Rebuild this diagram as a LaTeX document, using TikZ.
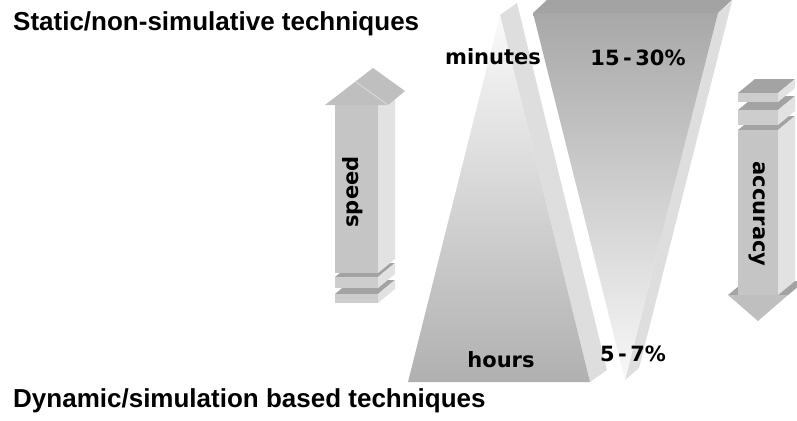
\documentclass[tikz,border=0pt]{standalone}
\usepackage{fontspec}
\setmainfont{Liberation Sans}
\newfontfamily\lblfont{DejaVu Sans}
\definecolor{faceTop}{HTML}{A3A3A3}
\definecolor{faceSide}{HTML}{DEDEDE}
\definecolor{arrFront}{HTML}{C5C5C5}
\definecolor{arrHead}{HTML}{BFBFBF}
\definecolor{arrSide}{HTML}{E2E2E2}
\definecolor{slabFront}{HTML}{CDCDCD}
\definecolor{ridge}{HTML}{DCDCDC}
\definecolor{wedgeLight}{HTML}{FAFAFA}
\definecolor{wedgeDark}{HTML}{B0B0B0}
\definecolor{funnelDark}{HTML}{A8A8A8}
\definecolor{funnelLight}{HTML}{F8F8F8}
\begin{document}
\begin{tikzpicture}[x=1pt,y=-1pt,
  title/.style={font=\fontsize{26}{30}\selectfont\bfseries, anchor=west, inner sep=0pt},
  lbl/.style={font=\lblfont\bfseries\fontsize{21}{24}\selectfont, inner sep=0pt, text=black},
  topface/.style={fill=faceTop},
  sideface/.style={fill=faceSide},
  shaftfront/.style={fill=arrFront},
  shaftside/.style={fill=arrSide},
  slabface/.style={fill=slabFront},
  headface/.style={fill=arrHead}]
\useasboundingbox (0,0) rectangle (797,420);
\clip (0,0) rectangle (797,420);

% rising wedge (time)
\fill[sideface] (500,15) -- (517,3) -- (607,370) -- (590,382) -- cycle;
\shade[top color=wedgeLight, bottom color=wedgeDark] (500,15) -- (590,382) -- (408,382) -- cycle;

% falling funnel (error)
\fill[topface] (533,13) -- (718,13) -- (733,-1) -- (548,-1) -- cycle;
\fill[sideface] (718,13) -- (732,1) -- (639,368) -- (625,380) -- cycle;
\shade[top color=funnelDark, bottom color=funnelLight] (533,13) -- (718,13) -- (625,380) -- cycle;

% speed arrow: lower slab, upper slab, shaft, head
\fill[topface] (335,294) -- (378,294) -- (395,280) -- (352,280) -- cycle;
\fill[shaftside] (378,294) -- (395,280) -- (395,289) -- (378,303) -- cycle;
\fill[slabface] (335,294) rectangle (378,303);
\fill[topface] (335,277) -- (378,277) -- (395,263) -- (352,263) -- cycle;
\fill[shaftside] (378,277) -- (395,263) -- (395,274) -- (378,288) -- cycle;
\fill[slabface] (335,277) rectangle (378,288);
\fill[shaftside] (378,105) -- (395,91) -- (395,259) -- (378,273) -- cycle;
\fill[shaftfront] (335,100) rectangle (378,273);
\fill[headface] (325,105) -- (373,68) -- (405,91) -- (388,105) -- cycle;
\draw[ridge, line width=0.8pt] (356,82) -- (388,105);

% accuracy arrow: head overhang, shaft, lower slab, upper slab, head
\fill[topface] (728,295) -- (788,295) -- (805,281) -- (745,281) -- cycle;
\fill[topface] (738,130) -- (778,130) -- (795,116) -- (755,116) -- cycle;
\fill[shaftside] (778,130) -- (795,116) -- (795,281) -- (778,295) -- cycle;
\fill[shaftfront] (738,130) rectangle (778,295);
\fill[topface] (738,110) -- (778,110) -- (795,96) -- (755,96) -- cycle;
\fill[shaftside] (778,110) -- (795,96) -- (795,111) -- (778,125) -- cycle;
\fill[slabface] (738,110) rectangle (778,125);
\fill[topface] (738,93) -- (778,93) -- (795,79) -- (755,79) -- cycle;
\fill[shaftside] (778,93) -- (795,79) -- (795,88) -- (778,102) -- cycle;
\fill[slabface] (738,93) rectangle (778,102);
\fill[headface] (728,295) -- (788,295) -- (758,321) -- cycle;

% labels
\node[lbl] (minutes) at (493,57) {minutes};
\node[lbl] (errhigh) at (638,58) {15\kern3.5pt-\kern3.5pt30\%};
\node[lbl] (hours) at (501,360) {hours};
\node[lbl] (errlow) at (633,354) {5\kern3.5pt-\kern3.5pt7\%};
\node[lbl, rotate=90] (speed) at (353,192) {speed};
\node[lbl, rotate=-90] (accuracy) at (757,214) {accuracy};
\node[title] (static) at (13,24) {Static/non-simulative techniques};
\node[title] (dynamic) at (13,401) {Dynamic/simulation based techniques};
\end{tikzpicture}
\end{document}
